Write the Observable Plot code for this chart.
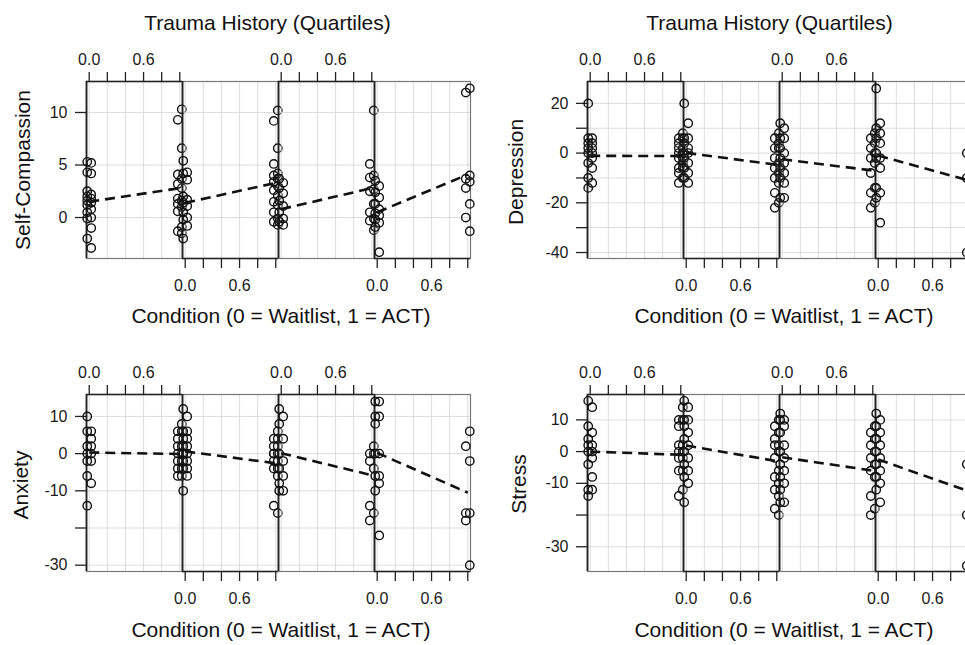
<!DOCTYPE html>
<html>
<head>
<meta charset="utf-8">
<script src="https://cdn.jsdelivr.net/npm/d3@7"></script>
<script src="https://cdn.jsdelivr.net/npm/@observablehq/plot@0.6"></script>
<style>
  html, body { margin: 0; padding: 0; background: #fff; }
  body { width: 965px; height: 645px; overflow: hidden; position: relative;
         font-family: "Liberation Sans", Arial, sans-serif; }
  .abs { position: absolute; white-space: nowrap; color: #111; line-height: 1;
         transform: translate(-50%, -50%); }
  .rot { transform: translate(-50%, -50%) rotate(-90deg); }
  .sub { position: absolute; }
  .sub svg text { font-size: 16px !important; font-family: "Liberation Sans", Arial, sans-serif !important; fill: #1a1a1a; }
</style>
</head>
<body>
<script>
// ---------------- data ----------------
const quartiles = ["Q1", "Q2", "Q3", "Q4"];
const xTicks = [0, 0.2, 0.4, 0.6, 0.8, 1.0];
const xTickLabels = ["0.0", "", "", "0.6", "", ""];

const outcomeNames = ["Self-Compassion", "Depression", "Anxiety", "Stress"];
const facetTitle = "Trauma History (Quartiles)";
const xTitle = "Condition (0 = Waitlist, 1 = ACT)";

// Self-Compassion (change scores), per trauma quartile
const scWait = [
  [5.3, 5.2, 4.3, 4.2, 2.5, 2.2, 2.0, 1.8, 1.6, 1.4, 1.2, 0.8, 0.5, 0.0, -0.1, -1.0, -2.0, -2.9],
  [5.4, 4.3, 4.2, 3.6, 2.0, 1.7, 1.4, 1.1, 0.5, 0.0, -0.2, -0.8, -2.0],
  [3.7, 3.3, 2.8, 2.3, 1.6, 1.1, 0.5, -0.1, -0.4, -0.7],
  [3.5, 3.0, 2.4, 1.9, 1.3, 0.8, 0.4, 0.2, -0.2, -0.5, -0.9, -3.3]
];
const scAct = [
  [10.3, 9.3, 6.6, 4.1, 3.7, 3.2, 2.8, 1.8, 1.6, 1.3, 1.0, 0.6, -0.9, -1.3, -1.5],
  [10.2, 9.2, 6.6, 5.1, 4.2, 4.0, 3.7, 3.4, 3.0, 2.6, 2.1, 1.5, 1.2, 0.5, -0.1, -0.4, -0.7],
  [10.2, 5.1, 4.0, 3.8, 2.7, 2.5, 1.3, 0.5, -0.1, -0.3, -1.2],
  [12.3, 11.9, 4.0, 3.7, 3.4, 2.8, 1.3, 0.0, -1.3]
];
const scLineStart = [1.5, 1.4, 0.8, 0.5];
const scLineEnd = [2.8, 3.3, 2.8, 4.1];
const scTicks = [0, 5, 10];
const scTickLabels = ["0", "5", "10"];

// Depression
const depWait = [
  [20, 6, 6, 4, 4, 2, 2, 0, 0, -2, -4, -6, -10, -12, -14],
  [20, 12, 6, 6, 4, 2, 0, 0, -2, -4, -6, -8, -10, -12],
  [12, 10, 6, 6, 2, 0, -2, -4, -6, -8, -10, -12, -18, -18],
  [26, 12, 10, 8, 6, 4, 0, -2, -2, -6, -14, -16, -18, -28]
];
const depAct = [
  [8, 6, 6, 4, 2, 2, 0, 0, -2, -2, -4, -6, -6, -8, -10, -12],
  [8, 6, 4, 2, 2, -2, -4, -6, -8, -10, -12, -16, -20, -22],
  [8, 6, 4, 2, 0, -2, -4, -8, -14, -16, -20, -22],
  [8, 0, -8, -10, -20, -40]
];
const depLineStart = [-1.1, 0.1, -2.5, -1.0];
const depLineEnd = [-1.2, -4.7, -7.0, -11.0];
const depTicks = [20, 10, 0, -10, -20, -30, -40];
const depTickLabels = ["20", "", "0", "", "-20", "", "-40"];

// Anxiety
const anxWait = [
  [10, 6, 6, 4, 2, 2, 0, 0, -2, -2, -6, -8, -14],
  [12, 10, 6, 6, 4, 4, 2, 2, 0, 0, 0, -2, -2, -4, -4, -6, -10],
  [12, 10, 8, 4, 0, -2, -4, -6, -8, -10, -10],
  [14, 14, 10, 10, 8, 0, 0, -6, -6, -8, -10, -22]
];
const anxAct = [
  [8, 6, 6, 4, 2, 2, 0, 0, -2, -2, -4, -4, -6, -6],
  [6, 4, 4, 2, 2, 0, 0, 0, -2, -2, -4, -4, -6, -14, -16],
  [2, 0, 0, -2, -4, -14, -16, -18],
  [6, 2, -2, -16, -16, -18, -30]
];
const anxLineStart = [0.3, 0.6, 0.1, 0.2];
const anxLineEnd = [-0.1, -2.6, -5.8, -10.5];
const anxTicks = [10, 0, -10, -20, -30];
const anxTickLabels = ["10", "0", "-10", "", "-30"];

// Stress
const strWait = [
  [16, 14, 8, 6, 4, 2, 2, 0, 0, -2, -4, -8, -12, -12, -14],
  [16, 14, 10, 10, 8, 6, 4, 2, 0, -2, -4, -6, -8, -10, -16],
  [12, 10, 10, 8, 6, 2, 0, -2, -4, -6, -8, -10, -12, -16, -16],
  [12, 10, 8, 6, 4, 2, 0, -2, -4, -6, -8, -10, -12, -16]
];
const strAct = [
  [14, 10, 10, 8, 2, 2, 0, 0, -2, -2, -6, -6, -12, -14],
  [10, 8, 6, 4, 2, 2, 0, -2, -6, -8, -10, -12, -14, -18, -20],
  [8, 6, 4, 2, 0, -2, -4, -6, -8, -14, -18, -20],
  [8, -4, -14, -20, -32, -36]
];
const strLineStart = [0.0, 1.9, -1.8, -2.5];
const strLineEnd = [-1.0, -3.0, -6.0, -12.5];
const strTicks = [10, 0, -10, -20, -30];
const strTickLabels = ["10", "0", "-10", "", "-30"];

// ---------------- layout (positions / styles) ----------------
const SUBW = 96, FRAMEH = 177, MT = 35, MB = 40, YAXW = 86;
const xDomain = [-0.03, 1.03];
const panels = [
  {name: outcomeNames[0], wait: scWait, act: scAct, start: scLineStart, end: scLineEnd,
   ticks: scTicks, tickLabels: scTickLabels, yDomain: [-3.9, 12.95],
   L: 86, T: 81, title: [267.5, 22], xt: [281, 315], yl: [22, 170]},
  {name: outcomeNames[1], wait: depWait, act: depAct, start: depLineStart, end: depLineEnd,
   ticks: depTicks, tickLabels: depTickLabels, yDomain: [-42.4, 28.8],
   L: 587, T: 81, title: [769.5, 22], xt: [784, 315], yl: [515, 172]},
  {name: outcomeNames[2], wait: anxWait, act: anxAct, start: anxLineStart, end: anxLineEnd,
   ticks: anxTicks, tickLabels: anxTickLabels, yDomain: [-31.7, 15.9],
   L: 86, T: 394, title: null, xt: [281, 629], yl: [20, 485]},
  {name: outcomeNames[3], wait: strWait, act: strAct, start: strLineStart, end: strLineEnd,
   ticks: strTicks, tickLabels: strTickLabels, yDomain: [-37.8, 18.0],
   L: 587, T: 394, title: null, xt: [784, 629], yl: [518, 484]}
];
const jitter = [-0.022, 0.022];

function addText(txt, x, y, size, rot) {
  const d = document.createElement("div");
  d.className = "abs" + (rot ? " rot" : "");
  d.style.left = x + "px";
  d.style.top = y + "px";
  d.style.fontSize = size + "px";
  d.textContent = txt;
  document.body.appendChild(d);
}

const xLabelMap = new Map(xTicks.map((t, i) => [t, xTickLabels[i]]));

for (const p of panels) {
  const yLabelMap = new Map(p.ticks.map((t, i) => [t, p.tickLabels[i]]));
  quartiles.forEach((qName, q) => {
    const pts = [];
    p.wait[q].forEach((v, i) => pts.push({cond: 0, dx: jitter[i % 2], v}));
    p.act[q].forEach((v, i) => pts.push({cond: 1, dx: jitter[(i + 1) % 2], v}));
    const seg = [{x1: 0, x2: 1, y1: p.start[q], y2: p.end[q]}];
    const first = q === 0;
    const topAxis = q % 2 === 0;
    const ml = first ? YAXW : 0;
    const chart = Plot.plot({
      width: ml + SUBW,
      height: MT + FRAMEH + MB,
      marginLeft: ml, marginRight: 0, marginTop: MT, marginBottom: MB,
      x: {domain: xDomain},
      y: {domain: p.yDomain, axis: first ? undefined : null},
      style: {background: "transparent", overflow: "visible",
              color: "#1a1a1a", maxWidth: "none"},
      marks: [
        Plot.gridX(xTicks, {stroke: "#d4d4d4", strokeOpacity: 1, strokeWidth: 0.8}),
        Plot.gridY(p.ticks, {stroke: "#d4d4d4", strokeOpacity: 1, strokeWidth: 0.8}),
        Plot.frame({stroke: "#777", strokeWidth: 1.2}),
        Plot.ruleX([xDomain[0]], {stroke: "#222", strokeWidth: 1.8}),
        Plot.ruleY([topAxis ? p.yDomain[1] : p.yDomain[0]], {stroke: "#222", strokeWidth: 1.6}),
        Plot.axisX(xTicks, {anchor: topAxis ? "top" : "bottom", tickSize: 10,
          tickPadding: topAxis ? 7 : 11, tickFormat: d => xLabelMap.get(d), label: null,
          stroke: "#222", strokeWidth: 1.3}),
        first ? Plot.axisY(p.ticks, {anchor: "left", tickSize: 11, tickPadding: 8,
          tickFormat: d => yLabelMap.get(d), label: null, stroke: "#222", strokeWidth: 1.3}) : null,
        Plot.dot(pts, {x: d => d.cond + d.dx, y: "v", r: 4.2, stroke: "#111",
          strokeWidth: 1.4, fill: "none"}),
        Plot.link(seg, {x1: "x1", y1: "y1", x2: "x2", y2: "y2", stroke: "#111",
          strokeWidth: 2.6, strokeDasharray: "10,6"})
      ]
    });
    const wrap = document.createElement("div");
    wrap.className = "sub";
    wrap.style.left = (p.L + SUBW * q - ml) + "px";
    wrap.style.top = (p.T - MT) + "px";
    wrap.appendChild(chart);
    document.body.appendChild(wrap);
  });
  if (p.title) addText(facetTitle, p.title[0], p.title[1], 21, false);
  addText(xTitle, p.xt[0], p.xt[1], 21, false);
  addText(p.name, p.yl[0], p.yl[1], 21, true);
}
</script>
</body>
</html>
